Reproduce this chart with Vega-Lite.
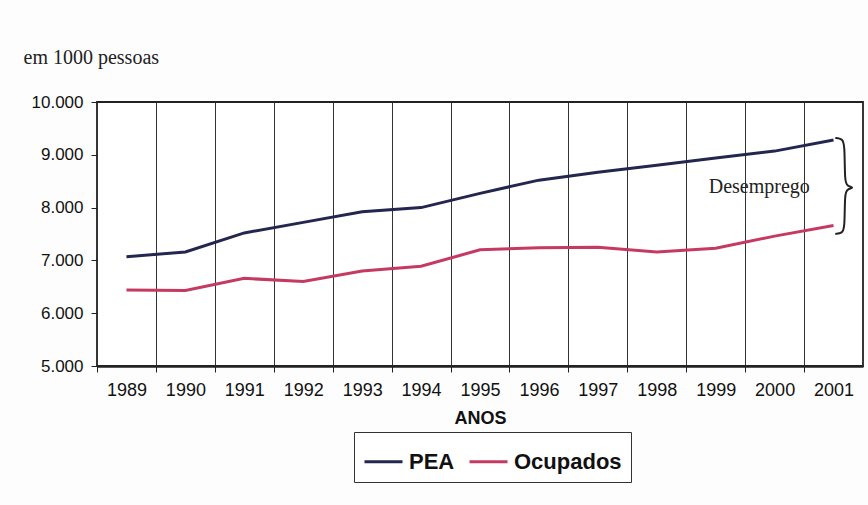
{
  "$schema": "https://vega.github.io/schema/vega-lite/v6.json",
  "autosize": "none",
  "width": 766,
  "height": 264,
  "padding": {"left": 97, "top": 102, "right": 5, "bottom": 139},
  "background": "#fdfdfd",
  "config": {
    "view": {"stroke": "#222", "strokeWidth": 1.8, "fill": "white"},
    "font": "Liberation Sans"
  },
  "datasets": {
    "series": [
      {"ano": 1989, "serie": "PEA", "valor": 7070},
      {"ano": 1990, "serie": "PEA", "valor": 7160},
      {"ano": 1991, "serie": "PEA", "valor": 7520},
      {"ano": 1992, "serie": "PEA", "valor": 7720},
      {"ano": 1993, "serie": "PEA", "valor": 7920},
      {"ano": 1994, "serie": "PEA", "valor": 8000},
      {"ano": 1995, "serie": "PEA", "valor": 8270},
      {"ano": 1996, "serie": "PEA", "valor": 8520},
      {"ano": 1997, "serie": "PEA", "valor": 8670},
      {"ano": 1998, "serie": "PEA", "valor": 8800},
      {"ano": 1999, "serie": "PEA", "valor": 8940},
      {"ano": 2000, "serie": "PEA", "valor": 9070},
      {"ano": 2001, "serie": "PEA", "valor": 9280},
      {"ano": 1989, "serie": "Ocupados", "valor": 6440},
      {"ano": 1990, "serie": "Ocupados", "valor": 6430},
      {"ano": 1991, "serie": "Ocupados", "valor": 6660},
      {"ano": 1992, "serie": "Ocupados", "valor": 6600},
      {"ano": 1993, "serie": "Ocupados", "valor": 6800},
      {"ano": 1994, "serie": "Ocupados", "valor": 6890},
      {"ano": 1995, "serie": "Ocupados", "valor": 7200},
      {"ano": 1996, "serie": "Ocupados", "valor": 7240},
      {"ano": 1997, "serie": "Ocupados", "valor": 7250},
      {"ano": 1998, "serie": "Ocupados", "valor": 7160},
      {"ano": 1999, "serie": "Ocupados", "valor": 7230},
      {"ano": 2000, "serie": "Ocupados", "valor": 7460},
      {"ano": 2001, "serie": "Ocupados", "valor": 7660}
    ],
    "brace": [
      {"i": 1, "ano": 2001.03, "valor": 9320},
      {"i": 2, "ano": 2001.15, "valor": 9300},
      {"i": 3, "ano": 2001.19, "valor": 9200},
      {"i": 4, "ano": 2001.19, "valor": 8490},
      {"i": 5, "ano": 2001.23, "valor": 8410},
      {"i": 6, "ano": 2001.36, "valor": 8380},
      {"i": 7, "ano": 2001.23, "valor": 8350},
      {"i": 8, "ano": 2001.19, "valor": 8270},
      {"i": 9, "ano": 2001.19, "valor": 7610},
      {"i": 10, "ano": 2001.15, "valor": 7520},
      {"i": 11, "ano": 2001.03, "valor": 7500}
    ],
    "nota": [
      {"ano": 1999.74, "valor": 8390, "texto": "Desemprego"}
    ]
  },
  "layer": [
    {
      "data": {"name": "series"},
      "mark": {"type": "line", "strokeWidth": 3, "interpolate": "linear"},
      "encoding": {
        "x": {
          "field": "ano", "type": "quantitative",
          "scale": {"domain": [1988.5, 2001.5], "nice": false, "zero": false},
          "axis": {
            "values": [1988.5, 1989.5, 1990.5, 1991.5, 1992.5, 1993.5, 1994.5, 1995.5, 1996.5, 1997.5, 1998.5, 1999.5, 2000.5],
            "labelExpr": "format(datum.value + 0.5, 'd')",
            "labelOffset": 29.46,
            "labelOverlap": false,
            "labelFlush": false,
            "labelBound": false,
            "labelFontSize": 18,
            "labelColor": "#111",
            "labelPadding": 9,
            "tickSize": 6,
            "tickColor": "#222",
            "grid": true,
            "gridColor": "#333",
            "gridWidth": 1,
            "gridOpacity": 1,
            "domainColor": "#222",
            "domainWidth": 2.5,
            "title": "ANOS",
            "titleFontSize": 18,
            "titleFontWeight": "bold",
            "titleColor": "#111",
            "titlePadding": 10
          }
        },
        "y": {
          "field": "valor", "type": "quantitative",
          "scale": {"domain": [5000, 10000], "nice": false, "zero": false},
          "axis": {
            "values": [5000, 6000, 7000, 8000, 9000, 10000],
            "labelExpr": "replace(format(datum.value, ','), ',', '.')",
            "labelFontSize": 17,
            "labelColor": "#111",
            "labelPadding": 8,
            "tickSize": 6,
            "tickColor": "#222",
            "grid": false,
            "domain": false,
            "title": "em 1000 pessoas",
            "titleAngle": 0,
            "titleAlign": "left",
            "titleBaseline": "alphabetic",
            "titleX": -74,
            "titleY": -39,
            "titleFont": "Liberation Serif",
            "titleFontSize": 20,
            "titleFontWeight": "normal",
            "titleColor": "#222"
          }
        },
        "color": {
          "field": "serie", "type": "nominal",
          "scale": {"domain": ["PEA", "Ocupados"], "range": ["#23264f", "#c53a63"]},
          "legend": {
            "title": null,
            "orient": "none",
            "legendX": 257,
            "legendY": 330,
            "direction": "horizontal",
            "strokeColor": "#333",
            "fillColor": "white",
            "padding": 9,
            "symbolType": "stroke",
            "symbolSize": 1444,
            "symbolStrokeWidth": 3,
            "labelFontSize": 22,
            "labelFontWeight": "bold",
            "labelColor": "#111",
            "labelOffset": 5,
            "columnPadding": 8
          }
        }
      }
    },
    {
      "data": {"name": "nota"},
      "mark": {"type": "text", "font": "Liberation Serif", "fontSize": 20, "color": "#222", "align": "center", "baseline": "middle"},
      "encoding": {
        "x": {"field": "ano", "type": "quantitative"},
        "y": {"field": "valor", "type": "quantitative"},
        "text": {"field": "texto"}
      }
    },
    {
      "data": {"name": "brace"},
      "mark": {"type": "line", "color": "#222", "strokeWidth": 2, "interpolate": "basis"},
      "encoding": {
        "x": {"field": "ano", "type": "quantitative"},
        "y": {"field": "valor", "type": "quantitative"},
        "order": {"field": "i"}
      }
    }
  ]
}
